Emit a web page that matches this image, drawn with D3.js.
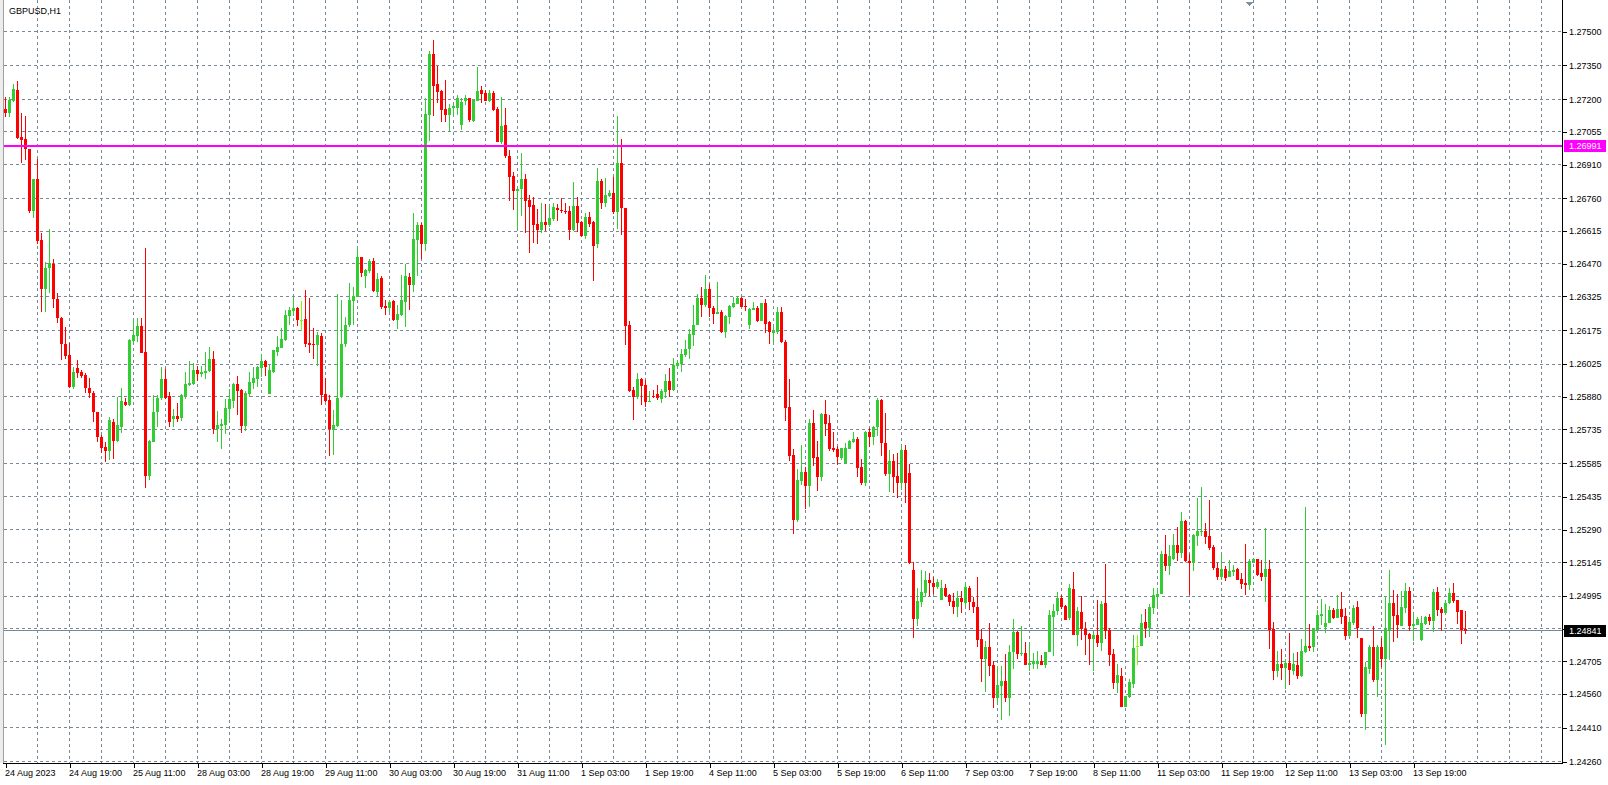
<!DOCTYPE html>
<html>
<head>
<meta charset="utf-8">
<script src="https://cdn.jsdelivr.net/npm/d3@7"></script>
<style>
  body { margin: 0; background: #fff; }
  svg { display: block; font-family: "Liberation Sans", Arial, sans-serif; }
  .axis text { font-size: 9px; fill: #000; }
  .axis line { stroke: #000; }
</style>
</head>
<body>
<svg id="chart" width="1608" height="785"></svg>
<script>
const symbol = 'GBPUSD,H1'

// hourly bars, 24 Aug 2023 03:00 .. 14 Sep 08:00
const opens = [
  1.27155,1.27138,1.27194,1.27241,1.27034,1.27024,1.26978,1.26706,1.26845,1.26576,
  1.26357,1.26450,1.26469,1.26312,1.26228,1.26114,1.26064,1.25922,1.26006,1.25988,
  1.25976,1.25920,1.25895,1.25811,1.25703,1.25658,1.25641,1.25766,1.25685,1.25747,
  1.25858,1.25843,1.26129,1.26150,1.26194,1.26080,1.25528,1.25681,1.25811,1.25873,
  1.25959,1.25883,1.25781,1.25795,1.25787,1.25882,1.25932,1.25937,1.25999,1.25981,
  1.25985,1.25994,1.26047,1.25737,1.25750,1.25755,1.25827,1.25863,1.25937,1.25910,
  1.25752,1.25892,1.25941,1.25959,1.26009,1.26039,1.25892,1.25990,1.26080,1.26098,
  1.26132,1.26240,1.26260,1.26274,1.26222,1.26225,1.26118,1.26114,1.26110,1.26150,
  1.25892,1.25866,1.25734,1.25751,1.25877,1.26114,1.26198,1.26306,1.26324,1.26499,
  1.26417,1.26439,1.26482,1.26346,1.26407,1.26284,1.26275,1.26306,1.26221,1.26243,
  1.26302,1.26413,1.26376,1.26576,1.26642,1.26558,1.27130,1.27401,1.27268,1.27237,
  1.27157,1.27130,1.27160,1.27163,1.27086,1.27194,1.27204,1.27105,1.27194,1.27241,
  1.27229,1.27194,1.27229,1.27157,1.27012,1.27086,1.26948,1.26860,1.26793,1.26802,
  1.26846,1.26753,1.26731,1.26647,1.26619,1.26656,1.26642,1.26669,1.26718,1.26709,
  1.26704,1.26704,1.26620,1.26727,1.26656,1.26593,1.26678,1.26656,1.26558,1.26837,
  1.26740,1.26771,1.26784,1.26700,1.26917,1.26718,1.26198,1.25910,1.25880,1.25959,
  1.25932,1.25858,1.25883,1.25892,1.25870,1.25903,1.25951,1.25910,1.26018,1.26025,
  1.26065,1.26092,1.26154,1.26198,1.26320,1.26287,1.26358,1.26275,1.26247,1.26255,
  1.26167,1.26234,1.26280,1.26292,1.26318,1.26283,1.26198,1.26265,1.26275,1.26216,
  1.26296,1.26212,1.26163,1.26167,1.26256,1.26123,1.25834,1.25621,1.25333,1.25506,
  1.25546,1.25484,1.25763,1.25613,1.25524,1.25803,1.25762,1.25654,1.25647,1.25607,
  1.25584,1.25648,1.25679,1.25692,1.25568,1.25497,1.25724,1.25703,1.25746,1.25866,
  1.25676,1.25537,1.25596,1.25528,1.25497,1.25644,1.25542,1.25111,1.24894,1.24969,
  1.25009,1.25067,1.25053,1.25036,1.24978,1.25031,1.25000,1.24974,1.24947,1.24987,
  1.24965,1.25031,1.24969,1.24947,1.24805,1.24716,1.24769,1.24689,1.24544,1.24596,
  1.24618,1.24543,1.24747,1.24836,1.24738,1.24743,1.24689,1.24694,1.24694,1.24707,
  1.24689,1.24747,1.24902,1.24929,1.24987,1.24951,1.24898,1.25027,1.24823,1.24925,
  1.24849,1.24827,1.24805,1.24823,1.24787,1.24964,1.24845,1.24738,1.24610,1.24641,
  1.24503,1.24547,1.24605,1.24773,1.24774,1.24880,1.24854,1.24942,1.24991,1.25005,
  1.25182,1.25129,1.25160,1.25222,1.25186,1.25328,1.25151,1.25144,1.25263,1.25280,
  1.25284,1.25262,1.25213,1.25120,1.25080,1.25115,1.25080,1.25102,1.25115,1.25071,
  1.25053,1.25044,1.25147,1.25160,1.25098,1.25080,1.25115,1.24849,1.24663,1.24694,
  1.24676,1.24698,1.24663,1.24689,1.24641,1.24747,1.24774,1.24769,1.24845,1.24908,
  1.24860,1.24876,1.24934,1.24898,1.24938,1.24907,1.24818,1.24876,1.24947,1.24809,
  1.24472,1.24672,1.24769,1.24623,1.24769,1.24716,1.24845,1.24965,1.24911,1.24863,
  1.24942,1.25018,1.24863,1.24867,1.24800,1.24871,1.24903,1.24885,1.25013,1.24938,
  1.24920,1.24965,1.25009,1.24978,1.24934,1.24849
]
const highs = [
  1.27212,1.27209,1.27268,1.27281,1.27138,1.27126,1.26981,1.26848,1.26934,1.26608,
  1.26479,1.26623,1.26490,1.26339,1.26235,1.26188,1.26117,1.26013,1.26043,1.25999,
  1.25984,1.25962,1.25907,1.25814,1.25710,1.25681,1.25792,1.25780,1.25880,1.25920,
  1.25873,1.26135,1.26221,1.26228,1.26228,1.26539,1.25688,1.25888,1.25888,1.26011,
  1.26002,1.25902,1.25826,1.25851,1.25892,1.25991,1.26039,1.26028,1.26018,1.26018,
  1.26080,1.26101,1.26083,1.25817,1.25781,1.25870,1.25914,1.25941,1.25972,1.25914,
  1.25905,1.25990,1.26012,1.26015,1.26070,1.26043,1.26021,1.26089,1.26150,1.26185,
  1.26265,1.26278,1.26323,1.26278,1.26305,1.26354,1.26320,1.26184,1.26166,1.26163,
  1.25962,1.25888,1.25821,1.26336,1.26309,1.26232,1.26383,1.26365,1.26543,1.26502,
  1.26448,1.26490,1.26494,1.26428,1.26417,1.26309,1.26306,1.26309,1.26287,1.26420,
  1.26468,1.26428,1.26697,1.26654,1.26650,1.27204,1.27414,1.27463,1.27348,1.27241,
  1.27286,1.27179,1.27173,1.27219,1.27204,1.27219,1.27207,1.27200,1.27345,1.27259,
  1.27241,1.27241,1.27237,1.27167,1.27212,1.27160,1.26975,1.26876,1.26805,1.26960,
  1.26869,1.26775,1.26768,1.26713,1.26740,1.26734,1.26727,1.26740,1.26735,1.26762,
  1.26740,1.26727,1.26832,1.26766,1.26660,1.26695,1.26700,1.26660,1.26895,1.26846,
  1.26851,1.26798,1.26857,1.27126,1.27024,1.26718,1.26216,1.25923,1.25987,1.25962,
  1.25954,1.25906,1.25910,1.25932,1.25914,1.25981,1.26006,1.26050,1.26043,1.26092,
  1.26132,1.26181,1.26287,1.26334,1.26367,1.26420,1.26380,1.26283,1.26391,1.26265,
  1.26243,1.26286,1.26324,1.26327,1.26323,1.26314,1.26275,1.26300,1.26284,1.26297,
  1.26314,1.26215,1.26195,1.26278,1.26278,1.26132,1.25959,1.25648,1.25559,1.25666,
  1.25568,1.25781,1.25821,1.25684,1.25808,1.25866,1.25799,1.25725,1.25661,1.25654,
  1.25676,1.25688,1.25723,1.25703,1.25604,1.25726,1.25743,1.25749,1.25874,1.25869,
  1.25808,1.25644,1.25626,1.25632,1.25664,1.25667,1.25582,1.25148,1.25031,1.25111,
  1.25107,1.25098,1.25080,1.25071,1.25067,1.25049,1.25003,1.25009,1.25018,1.25018,
  1.25058,1.25040,1.24991,1.25080,1.24849,1.24796,1.24876,1.24707,1.24685,1.24685,
  1.24738,1.24778,1.24894,1.24840,1.24863,1.24792,1.24783,1.24743,1.24752,1.24734,
  1.24749,1.24934,1.24960,1.25013,1.25000,1.24956,1.25049,1.25102,1.24947,1.24996,
  1.24880,1.24831,1.24831,1.24978,1.24973,1.25138,1.24854,1.24760,1.24694,1.24676,
  1.24552,1.24627,1.24823,1.24823,1.24916,1.24938,1.24960,1.25031,1.25030,1.25195,
  1.25266,1.25222,1.25271,1.25302,1.25368,1.25333,1.25182,1.25271,1.25431,1.25479,
  1.25320,1.25422,1.25222,1.25142,1.25182,1.25129,1.25155,1.25133,1.25120,1.25098,
  1.25226,1.25160,1.25164,1.25161,1.25155,1.25297,1.25155,1.24880,1.24752,1.24760,
  1.24716,1.24831,1.24743,1.24747,1.24805,1.25391,1.24871,1.24854,1.24934,1.24982,
  1.24960,1.24951,1.24942,1.25000,1.25013,1.24942,1.24903,1.24956,1.24974,1.24809,
  1.24703,1.24778,1.24863,1.24778,1.24808,1.24996,1.25111,1.25022,1.25005,1.25018,
  1.25053,1.25036,1.24916,1.24903,1.24907,1.24907,1.24916,1.25027,1.25036,1.24947,
  1.24978,1.25031,1.25053,1.24978,1.24934,1.24929
]
const lows = [
  1.27123,1.27123,1.27190,1.27024,1.26919,1.26931,1.26694,1.26672,1.26558,1.26258,
  1.26258,1.26339,1.26272,1.26206,1.26043,1.26046,1.25917,1.25913,1.25965,1.25962,
  1.25895,1.25873,1.25769,1.25681,1.25632,1.25592,1.25599,1.25602,1.25681,1.25718,
  1.25840,1.25839,1.26117,1.26124,1.26073,1.25474,1.25511,1.25678,1.25747,1.25866,
  1.25869,1.25747,1.25747,1.25769,1.25774,1.25870,1.25928,1.25932,1.25950,1.25966,
  1.25959,1.25991,1.25715,1.25681,1.25648,1.25715,1.25774,1.25831,1.25799,1.25721,
  1.25728,1.25880,1.25914,1.25923,1.25968,1.25974,1.25892,1.25985,1.26061,1.26095,
  1.26127,1.26198,1.26240,1.26194,1.26172,1.26101,1.26074,1.26047,1.26018,1.25843,
  1.25858,1.25618,1.25621,1.25747,1.25873,1.26102,1.26191,1.26198,1.26321,1.26413,
  1.26361,1.26431,1.26346,1.26321,1.26271,1.26243,1.26258,1.26218,1.26179,1.26238,
  1.26191,1.26265,1.26346,1.26416,1.26491,1.26528,1.27015,1.27126,1.27185,1.27101,
  1.27098,1.27059,1.27130,1.27130,1.27064,1.27175,1.27101,1.27101,1.27192,1.27185,
  1.27192,1.27190,1.27148,1.27009,1.27000,1.26938,1.26749,1.26709,1.26624,1.26684,
  1.26605,1.26519,1.26564,1.26558,1.26605,1.26616,1.26635,1.26660,1.26660,1.26694,
  1.26691,1.26576,1.26616,1.26613,1.26590,1.26580,1.26635,1.26394,1.26542,1.26713,
  1.26722,1.26768,1.26691,1.26624,1.26598,1.26110,1.25903,1.25777,1.25870,1.25843,
  1.25836,1.25855,1.25876,1.25866,1.25852,1.25873,1.25880,1.25907,1.26006,1.25991,
  1.26058,1.26048,1.26107,1.26198,1.26235,1.26280,1.26235,1.26204,1.26246,1.26163,
  1.26142,1.26204,1.26272,1.26290,1.26277,1.26262,1.26181,1.26263,1.26212,1.26215,
  1.26163,1.26114,1.26118,1.26158,1.26118,1.25772,1.25595,1.25271,1.25326,1.25488,
  1.25382,1.25391,1.25573,1.25462,1.25506,1.25706,1.25641,1.25636,1.25577,1.25599,
  1.25581,1.25647,1.25673,1.25525,1.25488,1.25485,1.25655,1.25666,1.25706,1.25619,
  1.25528,1.25459,1.25451,1.25429,1.25466,1.25407,1.25138,1.24811,1.24864,1.24948,
  1.24990,1.24997,1.25006,1.25028,1.24978,1.24990,1.24951,1.24916,1.24903,1.24920,
  1.24951,1.24934,1.24920,1.24769,1.24614,1.24570,1.24641,1.24500,1.24518,1.24447,
  1.24527,1.24465,1.24672,1.24716,1.24729,1.24689,1.24663,1.24672,1.24672,1.24688,
  1.24676,1.24746,1.24729,1.24911,1.24938,1.24888,1.24889,1.24821,1.24774,1.24800,
  1.24734,1.24689,1.24663,1.24768,1.24752,1.24805,1.24685,1.24583,1.24565,1.24503,
  1.24503,1.24543,1.24587,1.24689,1.24774,1.24809,1.24814,1.24916,1.24951,1.25003,
  1.25107,1.25089,1.25155,1.25151,1.25164,1.25148,1.24999,1.25107,1.25218,1.25262,
  1.25226,1.25200,1.25111,1.25067,1.25067,1.25062,1.25079,1.25084,1.25065,1.25025,
  1.25000,1.25022,1.25145,1.25084,1.25062,1.24969,1.24760,1.24623,1.24636,1.24623,
  1.24583,1.24601,1.24645,1.24627,1.24636,1.24743,1.24752,1.24747,1.24840,1.24867,
  1.24833,1.24874,1.24894,1.24897,1.24871,1.24800,1.24817,1.24867,1.24811,1.24460,
  1.24401,1.24650,1.24614,1.24547,1.24681,1.24334,1.24712,1.24792,1.24809,1.24861,
  1.24920,1.24840,1.24796,1.24866,1.24796,1.24867,1.24867,1.24836,1.24907,1.24840,
  1.24919,1.24960,1.24965,1.24871,1.24783,1.24827
]
const closes = [
  1.27138,1.27197,1.27244,1.27027,1.27019,1.26978,1.26706,1.26845,1.26573,1.26357,
  1.26450,1.26472,1.26312,1.26228,1.26113,1.26061,1.25925,1.25991,1.25987,1.25972,
  1.25917,1.25895,1.25811,1.25700,1.25651,1.25641,1.25777,1.25685,1.25755,1.25861,
  1.25843,1.26132,1.26154,1.26194,1.26076,1.25528,1.25684,1.25814,1.25873,1.25959,
  1.25876,1.25769,1.25795,1.25781,1.25888,1.25937,1.25941,1.25999,1.25981,1.25990,
  1.25996,1.26047,1.25737,1.25755,1.25759,1.25830,1.25870,1.25937,1.25907,1.25752,
  1.25897,1.25945,1.25963,1.26012,1.26039,1.26012,1.25999,1.26087,1.26101,1.26136,
  1.26243,1.26265,1.26274,1.26221,1.26222,1.26114,1.26110,1.26112,1.26154,1.25888,
  1.25861,1.25735,1.25755,1.25873,1.26114,1.26198,1.26309,1.26327,1.26499,1.26431,
  1.26442,1.26482,1.26351,1.26403,1.26280,1.26275,1.26302,1.26221,1.26247,1.26309,
  1.26416,1.26376,1.26580,1.26642,1.26558,1.27135,1.27401,1.27259,1.27234,1.27153,
  1.27130,1.27160,1.27170,1.27204,1.27190,1.27204,1.27108,1.27197,1.27237,1.27224,
  1.27194,1.27229,1.27153,1.27012,1.27082,1.26948,1.26857,1.26793,1.26802,1.26846,
  1.26749,1.26724,1.26642,1.26620,1.26656,1.26642,1.26673,1.26722,1.26709,1.26704,
  1.26698,1.26620,1.26727,1.26653,1.26593,1.26678,1.26647,1.26549,1.26837,1.26740,
  1.26775,1.26786,1.26700,1.26917,1.26716,1.26195,1.25906,1.25880,1.25959,1.25929,
  1.25858,1.25863,1.25879,1.25874,1.25906,1.25951,1.25910,1.26021,1.26028,1.26070,
  1.26092,1.26158,1.26198,1.26320,1.26287,1.26358,1.26272,1.26247,1.26255,1.26167,
  1.26238,1.26283,1.26296,1.26318,1.26280,1.26280,1.26269,1.26275,1.26216,1.26296,
  1.26203,1.26167,1.26172,1.26256,1.26123,1.25830,1.25617,1.25333,1.25511,1.25546,
  1.25484,1.25763,1.25608,1.25524,1.25803,1.25759,1.25648,1.25644,1.25614,1.25651,
  1.25651,1.25684,1.25692,1.25565,1.25497,1.25724,1.25703,1.25746,1.25866,1.25676,
  1.25537,1.25596,1.25524,1.25497,1.25644,1.25497,1.25142,1.24894,1.24974,1.25013,
  1.25067,1.25053,1.25036,1.25058,1.25031,1.24997,1.24971,1.24947,1.24987,1.24969,
  1.25036,1.24969,1.24947,1.24800,1.24716,1.24769,1.24685,1.24544,1.24601,1.24618,
  1.24543,1.24747,1.24836,1.24738,1.24743,1.24689,1.24698,1.24707,1.24707,1.24689,
  1.24747,1.24911,1.24929,1.24987,1.24947,1.24889,1.25031,1.24823,1.24929,1.24849,
  1.24823,1.24805,1.24823,1.24787,1.24960,1.24840,1.24734,1.24610,1.24645,1.24503,
  1.24552,1.24614,1.24765,1.24773,1.24876,1.24854,1.24947,1.25000,1.25005,1.25182,
  1.25129,1.25173,1.25222,1.25186,1.25328,1.25151,1.25144,1.25266,1.25284,1.25284,
  1.25258,1.25209,1.25120,1.25080,1.25115,1.25076,1.25107,1.25111,1.25067,1.25049,
  1.25044,1.25151,1.25160,1.25089,1.25080,1.25115,1.24845,1.24663,1.24694,1.24676,
  1.24698,1.24667,1.24694,1.24641,1.24752,1.24774,1.24765,1.24849,1.24911,1.24916,
  1.24876,1.24934,1.24898,1.24938,1.24903,1.24818,1.24880,1.24942,1.24852,1.24472,
  1.24681,1.24769,1.24623,1.24769,1.24716,1.24849,1.24965,1.24907,1.24867,1.24947,
  1.25018,1.24863,1.24871,1.24894,1.24876,1.24903,1.24885,1.25013,1.24934,1.24920,
  1.24965,1.25009,1.24974,1.24925,1.24845,1.24841
]

const priceTicks = [1.27500, 1.27350, 1.27200, 1.27055, 1.26910, 1.26760, 1.26615, 1.26470,
  1.26325, 1.26175, 1.26025, 1.25880, 1.25735, 1.25585, 1.25435, 1.25290, 1.25145, 1.24995,
  1.24850, 1.24705, 1.24560, 1.24410, 1.24260]
const timeTickBars = [0, 16, 32, 48, 64, 80, 96, 112, 128, 144, 160, 176, 192, 208, 224,
  240, 256, 272, 288, 304, 320, 336, 352]
const timeTickLabels = ['24 Aug 2023', '24 Aug 19:00', '25 Aug 11:00', '28 Aug 03:00',
  '28 Aug 19:00', '29 Aug 11:00', '30 Aug 03:00', '30 Aug 19:00', '31 Aug 11:00',
  '1 Sep 03:00', '1 Sep 19:00', '4 Sep 11:00', '5 Sep 03:00', '5 Sep 19:00', '6 Sep 11:00',
  '7 Sep 03:00', '7 Sep 19:00', '8 Sep 11:00', '11 Sep 03:00', '11 Sep 19:00',
  '12 Sep 11:00', '13 Sep 03:00', '13 Sep 19:00']
const levelLine = 1.26991
const bidPrice = 1.24841

var fullWidth = 1608
var fullHeight = 785
var plot = {left: 3, right: 1562, top: 0, bottom: 763}

var bullColor = '#32cd32'
var bearColor = '#ff0000'
var dojiColor = '#7cfc00'
var gridColor = '#778899'

// 4 px per bar, first bar centred at 5.5
var x = d3.scaleLinear().domain([0, 1]).range([5.5, 9.5])
var y = d3.scaleLinear().domain([1.27500, 1.24260]).range([31.7, 761.7])

var svg = d3.select('#chart')
  .attr('width', fullWidth)
  .attr('height', fullHeight)
  .attr('shape-rendering', 'crispEdges')

svg.append('rect')
  .attr('width', fullWidth).attr('height', fullHeight).attr('fill', '#fff')

svg.append('rect')
  .attr('x', 0).attr('y', 0).attr('width', plot.left).attr('height', plot.bottom)
  .attr('fill', '#ececec')

/* grid */
var grid = svg.append('g').attr('stroke', gridColor).attr('stroke-dasharray', '3,3')

grid.selectAll('.hgrid').data(priceTicks)
  .enter().append('line')
    .attr('class', 'hgrid')
    .attr('x1', plot.left + 1).attr('x2', plot.right)
    .attr('y1', function(d) { return Math.floor(y(d)) + 0.5 })
    .attr('y2', function(d) { return Math.floor(y(d)) + 0.5 })

var vgridBars = d3.range(8, 400, 8).filter(function(i) { return x(i) < plot.right })
grid.selectAll('.vgrid').data(vgridBars)
  .enter().append('line')
    .attr('class', 'vgrid')
    .attr('y1', plot.top).attr('y2', plot.bottom)
    .attr('x1', function(d) { return Math.floor(x(d)) + 0.5 })
    .attr('x2', function(d) { return Math.floor(x(d)) + 0.5 })

/* bid line */
svg.append('line')
  .attr('x1', plot.left + 1).attr('x2', plot.right)
  .attr('y1', Math.floor(y(bidPrice)) + 0.5).attr('y2', Math.floor(y(bidPrice)) + 0.5)
  .attr('stroke', gridColor)

/* candles */
var bars = d3.range(opens.length).map(function(i) {
  return {i: i, o: opens[i], h: highs[i], l: lows[i], c: closes[i]}
})

function candleColor(d) {
  if (d.c > d.o) return bullColor
  if (d.c < d.o) return bearColor
  return dojiColor
}

var candles = svg.append('g').selectAll('.candle').data(bars)
  .enter().append('g')
    .attr('class', 'candle')

candles.append('rect')
  .attr('x', function(d) { return x(d.i) - 0.5 })
  .attr('y', function(d) { return y(d.h) })
  .attr('width', 1)
  .attr('height', function(d) { return Math.max(1, y(d.l) - y(d.h)) })
  .attr('fill', candleColor)

candles.append('rect')
  .attr('x', function(d) { return x(d.i) - 1.5 })
  .attr('y', function(d) { return y(Math.max(d.o, d.c)) })
  .attr('width', 3)
  .attr('height', function(d) { return Math.max(1, Math.abs(y(d.o) - y(d.c))) })
  .attr('fill', candleColor)

/* horizontal level */
svg.append('line')
  .attr('x1', plot.left + 1).attr('x2', plot.right)
  .attr('y1', y(levelLine)).attr('y2', y(levelLine))
  .attr('stroke', '#ff00ff').attr('stroke-width', 2)

/* frame */
svg.append('line')
  .attr('x1', plot.left + 0.5).attr('x2', plot.left + 0.5)
  .attr('y1', 0).attr('y2', plot.bottom)
  .attr('stroke', '#a0a0a0')
svg.append('line')
  .attr('x1', plot.right + 0.5).attr('x2', plot.right + 0.5)
  .attr('y1', 0).attr('y2', plot.bottom + 1)
  .attr('stroke', '#000')
svg.append('line')
  .attr('x1', plot.left).attr('x2', plot.right + 1)
  .attr('y1', plot.bottom + 0.5).attr('y2', plot.bottom + 0.5)
  .attr('stroke', '#000')

/* price axis */
var yAxis = svg.append('g')
  .attr('class', 'axis')
  .attr('transform', 'translate(' + (plot.right + 1) + ',0)')
  .call(d3.axisRight(y).tickValues(priceTicks).tickSize(4).tickSizeOuter(0)
    .tickFormat(function(d) { return Math.abs(d - bidPrice) < 0.0003 ? '' : d.toFixed(5) }))
yAxis.attr('font-size', null).attr('font-family', null)
yAxis.select('.domain').remove()
yAxis.selectAll('text').attr('x', 6)

/* time axis */
var xAxis = svg.append('g')
  .attr('class', 'axis')
  .attr('transform', 'translate(0,' + (plot.bottom + 1) + ')')
  .call(d3.axisBottom(x).tickValues(timeTickBars).tickSize(4).tickSizeOuter(0)
    .tickFormat(function(d, i) { return timeTickLabels[i] }))
xAxis.attr('font-size', null).attr('font-family', null)
xAxis.select('.domain').remove()
xAxis.selectAll('text').attr('text-anchor', 'start').attr('x', -1).attr('y', 6)

/* price tags */
function priceTag(value, fill) {
  var yy = Math.round(y(value))
  svg.append('rect')
    .attr('x', plot.right + 2).attr('y', yy - 6)
    .attr('width', 42).attr('height', 12)
    .attr('fill', fill)
  svg.append('text')
    .attr('x', plot.right + 7).attr('y', yy)
    .attr('dy', '0.34em')
    .attr('font-size', 9)
    .attr('fill', '#fff')
    .text(value.toFixed(5))
}
priceTag(levelLine, '#ff00ff')
priceTag(bidPrice, '#000')

/* title and shift marker */
svg.append('text')
  .attr('x', 9).attr('y', 14)
  .attr('font-size', 9)
  .attr('fill', '#000')
  .text(symbol)

svg.append('path')
  .attr('d', 'M1245,2L1253,2L1249,6Z')
  .attr('fill', '#8090a0')
</script>
</body>
</html>
